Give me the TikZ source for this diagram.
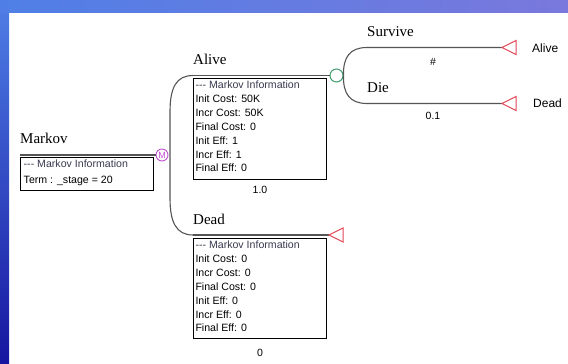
\documentclass[tikz,border=0pt]{standalone}
\usepackage{fontspec}
\setmainfont{Liberation Serif}
\setsansfont{Liberation Sans}
\definecolor{bandA}{HTML}{4F7FE6}
\definecolor{bandB}{HTML}{7A78DC}
\definecolor{bandC}{HTML}{1616A0}
\definecolor{branchgrey}{HTML}{555555}
\definecolor{markovpurple}{HTML}{C050D0}
\definecolor{chancegreen}{HTML}{40A070}
\definecolor{termred}{HTML}{E04858}
\definecolor{headgrey}{HTML}{3A3A50}
\newcommand{\infohead}{\textcolor{headgrey}{-{}-{}- Markov Information}}
\tikzset{
  branchline/.style={draw=branchgrey, line width=1.1pt},
  infobox/.style={draw=black, line width=1.1pt, fill=white, inner sep=0pt},
  infotext/.style={font=\sffamily\fontsize{10.6}{13.9}\selectfont, align=left, inner sep=0pt, text=black},
  branchlabel/.style={font=\rmfamily\fontsize{15}{18}\selectfont, inner sep=0pt, anchor=base west},
  numlabel/.style={font=\sffamily\fontsize{10.5}{12}\selectfont, inner sep=0pt},
  termlabel/.style={font=\sffamily\fontsize{12}{14}\selectfont, inner sep=0pt, anchor=west},
  markovnode/.style={circle, draw=markovpurple, fill=white, line width=0.9pt, minimum size=12pt, inner sep=0pt,
    font=\sffamily\fontsize{9}{9}\selectfont, text=markovpurple},
  chancenode/.style={circle, draw=chancegreen, fill=white, line width=1pt, minimum size=13pt, inner sep=0pt},
  terminal/.style={draw=termred, fill=white, line width=1pt, line join=miter},
}
\begin{document}
\begin{tikzpicture}[x=1pt,y=-1pt]
\useasboundingbox (0,0) rectangle (568,364);
% slide background
\fill[white] (0,0) rectangle (568,364);
\shade[top color=bandA, bottom color=bandC] (0,0) rectangle (9,364);
\shade[left color=bandA, right color=bandB] (0,0) rectangle (568,12);

% ---- root: Markov node
\node[branchlabel] (lblmarkov) at (20,143) {Markov};
\coordinate (rootstart) at (20,155);
\node[markovnode] (mnode) at (162,155) {M};
\draw[branchline] (rootstart) -- (mnode.west);
\node[infobox, minimum width=133pt, minimum height=32.7pt, anchor=north west] (markovbox) at (20,157.3) {};
\node[infotext, anchor=north west, font=\sffamily\fontsize{10.6}{15.4}\selectfont]
  at ([xshift=3.5pt,yshift=-2.5pt]markovbox.north west)
  {\infohead\\Term : \_stage = 20};

% ---- Markov branches: Alive and Dead
\coordinate (alivestart) at (193,75.5);
\coordinate (deadstart) at (193,235);
\node[chancenode] (cnode) at (336.5,75.5) {};
\coordinate (deadtip) at (329,235);

\draw[branchline] (alivestart) .. controls (176,75.5) and (170,88) .. (170,112)
  -- (170,198) .. controls (170,222) and (176,235) .. (deadstart);
\draw[branchline] (alivestart) -- (cnode.west);
\draw[branchline] (deadstart) -- (deadtip);
\draw[terminal] (deadtip) -- ++(14,-7) -- ++(0,14) -- cycle;

\node[branchlabel] (lblalive) at (193,64) {Alive};
\node[branchlabel] (lbldead) at (193,224) {Dead};

\node[infobox, minimum width=132.4pt, minimum height=101pt, anchor=north west] (alivebox) at (193.3,78.3) {};
\node[infotext, anchor=north west] at ([xshift=2pt,yshift=-2.4pt]alivebox.north west)
  {\infohead\\Init Cost: 50K\\Incr Cost: 50K\\Final Cost: 0\\Init Eff: 1\\Incr Eff: 1\\Final Eff: 0};
\node[numlabel] (probalive) at (260,190) {1.0};

\node[infobox, minimum width=132.4pt, minimum height=100pt, anchor=north west] (deadbox) at (193.3,238.3) {};
\node[infotext, anchor=north west] at ([xshift=2pt,yshift=-2.4pt]deadbox.north west)
  {\infohead\\Init Cost: 0\\Incr Cost: 0\\Final Cost: 0\\Init Eff: 0\\Incr Eff: 0\\Final Eff: 0};
\node[numlabel] (probdead) at (260,353) {0};

% ---- chance node branches: Survive and Die
\coordinate (survstart) at (367,47.5);
\coordinate (diestart) at (367,103.5);
\coordinate (survtip) at (502,47.5);
\coordinate (dietip) at (502,103.5);
\draw[branchline] (cnode.east) .. controls (343,57) and (350,47.5) .. (survstart) -- (survtip);
\draw[branchline] (cnode.east) .. controls (343,94) and (350,103.5) .. (diestart) -- (dietip);
\draw[terminal] (survtip) -- ++(14,-7) -- ++(0,14) -- cycle;
\draw[terminal] (dietip) -- ++(14,-7) -- ++(0,14) -- cycle;

\node[branchlabel] (lblsurvive) at (367,36) {Survive};
\node[branchlabel] (lbldie) at (367,92) {Die};
\node[numlabel] (probsurvive) at (433,62) {\#};
\node[numlabel] (probdie) at (433,116) {0.1};

\node[termlabel] (termalive) at (532,48) {Alive};
\node[termlabel] (termdead) at (533,103.5) {Dead};
\end{tikzpicture}
\end{document}
